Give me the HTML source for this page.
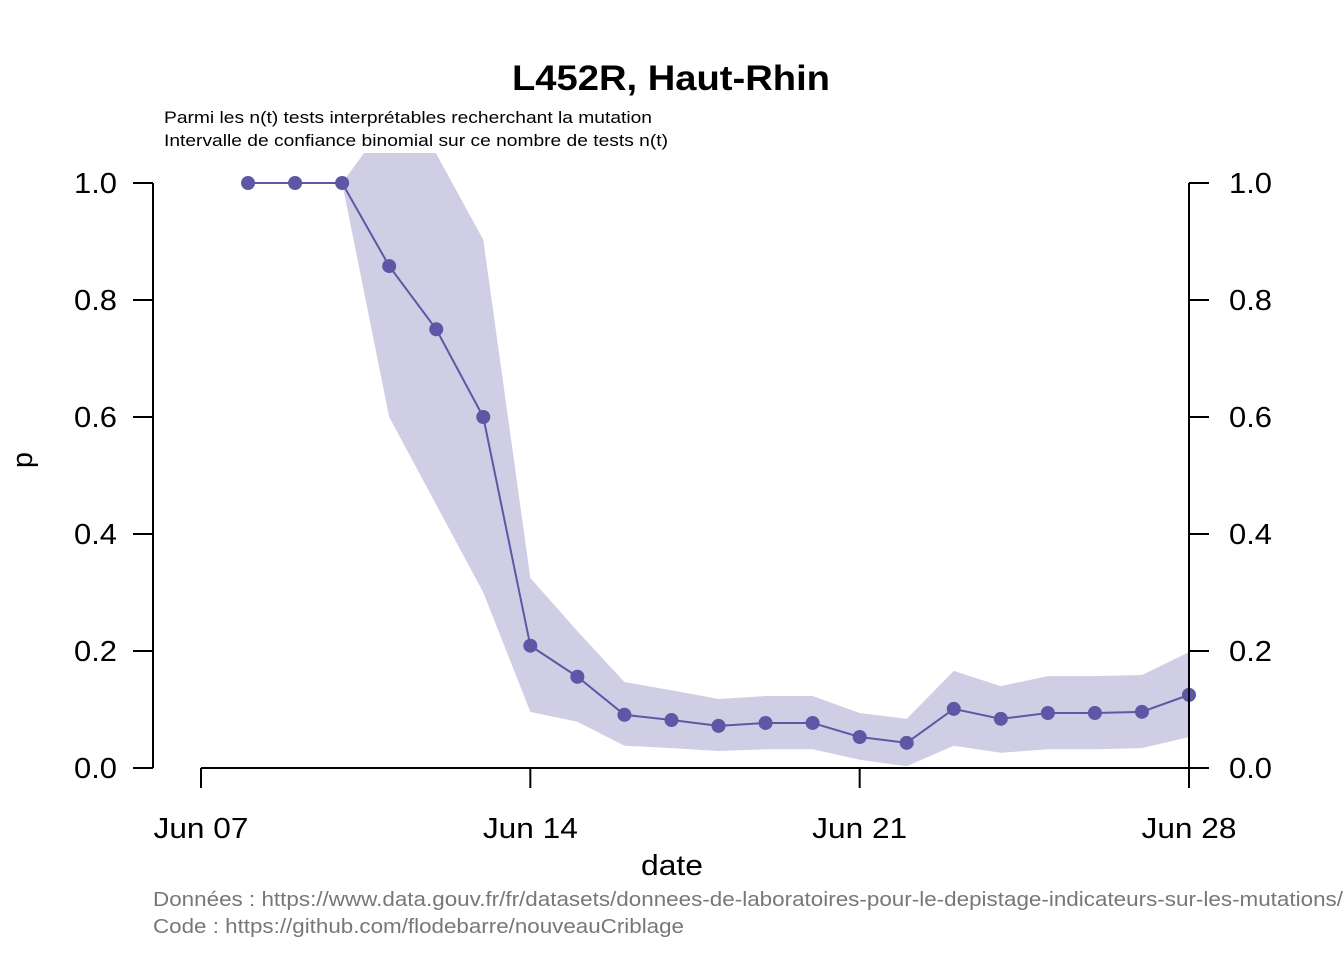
<!DOCTYPE html>
<html><head><meta charset="utf-8"><style>
html,body{margin:0;padding:0;background:#fff;}
svg{display:block;font-family:"Liberation Sans",Arial,sans-serif;}
</style></head><body>
<svg id="chart" width="1344" height="960" viewBox="0 0 1344 960" xmlns="http://www.w3.org/2000/svg">
<defs><clipPath id="clip"><rect x="153" y="153" width="1037" height="640"/></clipPath></defs>
<text x="671" y="90" text-anchor="middle" font-size="35" font-weight="bold" textLength="318" lengthAdjust="spacingAndGlyphs">L452R, Haut-Rhin</text>
<text x="164" y="123" font-size="17" textLength="488" lengthAdjust="spacingAndGlyphs">Parmi les n(t) tests interprétables recherchant la mutation</text>
<text x="164" y="146" font-size="17" textLength="504" lengthAdjust="spacingAndGlyphs">Intervalle de confiance binomial sur ce nombre de tests n(t)</text>
<g id="band" clip-path="url(#clip)"></g>
<g id="series"></g>
<g id="axes"></g>
<text transform="translate(32,460) rotate(-90)" text-anchor="middle" font-size="29">p</text>
<text x="672" y="875" text-anchor="middle" font-size="29" textLength="62" lengthAdjust="spacingAndGlyphs">date</text>
<text x="153" y="906" font-size="20" fill="#777" textLength="1190" lengthAdjust="spacingAndGlyphs">Données : https://www.data.gouv.fr/fr/datasets/donnees-de-laboratoires-pour-le-depistage-indicateurs-sur-les-mutations/</text>
<text x="153" y="933" font-size="20" fill="#777" textLength="531" lengthAdjust="spacingAndGlyphs">Code : https://github.com/flodebarre/nouveauCriblage</text>
</svg>
<script>
// days since Jun 07
const days = [1,2,3,4,5,6,7,8,9,10,11,12,13,14,15,16,17,18,19,20,21];
const pValues = [1,1,1,0.858,0.75,0.6,0.209,0.156,0.091,0.082,0.072,0.077,0.077,0.053,0.043,0.101,0.084,0.094,0.094,0.096,0.125];
const bandDays = [3,4,5,6,7,8,9,10,11,12,13,14,15,16,17,18,19,20,21];
const upper = [1.0,1.11,1.05,0.903,0.325,0.234,0.147,0.133,0.118,0.123,0.123,0.094,0.084,0.166,0.140,0.157,0.157,0.159,0.198];
const lower = [1.0,0.6,0.45,0.30,0.096,0.079,0.038,0.034,0.029,0.032,0.032,0.014,0.003,0.038,0.026,0.032,0.032,0.034,0.053];
const xTickDays = [0,7,14,21];
const xTickLabels = ["Jun 07","Jun 14","Jun 21","Jun 28"];
const yTicks = [0,0.2,0.4,0.6,0.8,1.0];
const yTickLabels = ["0.0","0.2","0.4","0.6","0.8","1.0"];

const NS="http://www.w3.org/2000/svg";
const X = d => 201 + d*(1189-201)/21;
const Y = v => 768 - v*585;
function mk(tag, attrs, parent){const e=document.createElementNS(NS,tag);for(const k in attrs)e.setAttribute(k,attrs[k]);parent.appendChild(e);return e;}

const band=document.getElementById('band');
let pts=bandDays.map((d,i)=>X(d)+","+Y(upper[i]));
for(let i=bandDays.length-1;i>=0;i--)pts.push(X(bandDays[i])+","+Y(lower[i]));
const poly=mk('polygon',{points:pts.join(' '),fill:'#d0cee5'},band);



const ser=document.getElementById('series');
const line=mk('polyline',{points:days.map((d,i)=>X(d)+","+Y(pValues[i])).join(' '),fill:'none',stroke:'#5e57a5','stroke-width':2},ser);


days.forEach((d,i)=>{
  const c=mk('circle',{cx:X(d),cy:Y(pValues[i]),r:7,fill:'#5e57a5'},ser);
  
  
});

const ax=document.getElementById('axes');
const st={stroke:'#000','stroke-width':2,fill:'none'};
[[153,-1,'end',117],[1189,1,'start',1229]].forEach(([x,dir,anc,tx],k)=>{
  const a=mk('line',Object.assign({x1:x,y1:Y(0),x2:x,y2:Y(1)},st),ax);
  
  
  yTicks.forEach((v,i)=>{
    mk('line',Object.assign({x1:x,y1:Y(v),x2:x+dir*20,y2:Y(v)},st),ax);
    const t=mk('text',{x:tx,y:Y(v)+10,'text-anchor':anc,'font-size':29,textLength:43,lengthAdjust:'spacingAndGlyphs'},ax);
    t.textContent=yTickLabels[i];
    
    
  });
});
const xa=mk('line',Object.assign({x1:X(0),y1:768,x2:X(21),y2:768},st),ax);


xTickDays.forEach((d,i)=>{
  mk('line',Object.assign({x1:X(d),y1:768,x2:X(d),y2:788},st),ax);
  const t=mk('text',{x:X(d),y:838,'text-anchor':'middle','font-size':29,textLength:95,lengthAdjust:'spacingAndGlyphs'},ax);
  t.textContent=xTickLabels[i];
  
  
});
</script>
</body></html>
